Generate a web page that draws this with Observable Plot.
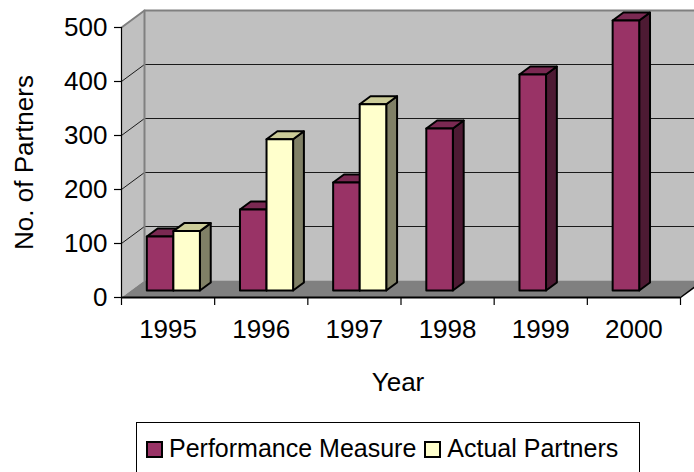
<!DOCTYPE html>
<html>
<head>
<meta charset="utf-8">
<script src="https://cdn.jsdelivr.net/npm/d3@7"></script>
<script src="https://cdn.jsdelivr.net/npm/@observablehq/plot@0.6"></script>
<style>
  html, body { margin: 0; padding: 0; background: white; overflow: hidden; }
  body { width: 694px; height: 472px; font-family: "Liberation Sans", Arial, sans-serif; }
  #legend {
    margin-left: 136px; margin-top: 4px; width: 504px; height: 70px;
    border: 1px solid #000; box-sizing: border-box;
    display: flex; align-items: flex-start; padding-top: 10px; padding-left: 9px;
    font-size: 25px; color: #000; line-height: 30px;
  }
  .item { display: flex; align-items: center; margin-right: 8px; }
  .sw { width: 13px; height: 13px; border: 2px solid #000; margin-right: 6px; margin-top: 3px; }
</style>
</head>
<body>
<div id="chart"></div>
<div id="legend"></div>
<script>
// ---- data ----
const years = ["1995", "1996", "1997", "1998", "1999", "2000"];
const performanceMeasure = [100, 150, 200, 300, 400, 500];
const actualPartners = [110, 280, 345, null, null, null];
const yTicks = [0, 100, 200, 300, 400, 500];
const seriesNames = ["Performance Measure", "Actual Partners"];

// ---- style / layout ----
const W = 694, H = 418;
const mL = 121, mR = 14, mT = 27, mB = H - 297;
const PX = (W - mL - mR) / years.length;  // px per category unit
const PY = (H - mT - mB) / 500;             // px per value unit
const DEPTH_DX = 23, DEPTH_DY = 17;         // oblique depth offset (px)
const pt = (x, y, d) => ({x: x + d * DEPTH_DX / PX, y: y + d * DEPTH_DY / PY});
const FS = 26;

const colors = {
  perf:   {front: "#993366", top: "#7a2952", side: "#4d1a33"},
  actual: {front: "#ffffcc", top: "#cccc99", side: "#808066"}
};

const n = years.length;
// walls and floor
const poly = (id, pts) => pts.map(p => ({...p, id}));
const backWall = poly("back", [pt(0,0,1), pt(n+1,0,1), pt(n+1,500,1), pt(0,500,1)]);
const sideWall = poly("side", [pt(0,0,0), pt(0,500,0), pt(0,500,1), pt(0,0,1)]);
const floor = poly("floor", [pt(0,0,0), pt(n,0,0), pt(n,0,1), pt(0,0,1)]);
const wallEdges = [pt(0,500,0), pt(0,500,1), pt(n+1,500,1)].map(p => ({...p, id: "e1"}))
  .concat([pt(0,500,1), pt(0,0,1)].map(p => ({...p, id: "e2"})));
const gridLines = [];
yTicks.filter(v => v > 0 && v < 500).forEach(v => {
  [pt(0,v,0), pt(0,v,1), pt(n+1,v,1)].forEach(p => gridLines.push({...p, id: "g" + v}));
});
const floorEdge = [pt(n,0,0), pt(n,0,1)];

// bars
const dF = 7 / 17, dB = 15 / 17, bw = 0.285, x0p = 0.17;
const faces = {front: [], top: [], side: []};
const series = [
  {key: "perf", values: performanceMeasure, off: x0p},
  {key: "actual", values: actualPartners, off: x0p + bw}
];
const bars = [];
years.forEach((yr, i) => series.forEach(s => {
  const v = s.values[i];
  if (v == null) return;
  bars.push({i, key: s.key, v, x0: i + s.off, x1: i + s.off + bw});
}));
for (const b of bars) {
  const id = b.key + b.i;
  faces.side.push(...poly(id, [pt(b.x1,0,dF), pt(b.x1,b.v,dF), pt(b.x1,b.v,dB), pt(b.x1,0,dB)]).map(p => ({...p, key: b.key})));
  faces.top.push(...poly(id, [pt(b.x0,b.v,dF), pt(b.x1,b.v,dF), pt(b.x1,b.v,dB), pt(b.x0,b.v,dB)]).map(p => ({...p, key: b.key})));
  faces.front.push(...poly(id, [pt(b.x0,0,dF), pt(b.x1,0,dF), pt(b.x1,b.v,dF), pt(b.x0,b.v,dF)]).map(p => ({...p, key: b.key})));
}
const faceMarks = [];
for (const f of ["side", "top", "front"]) {
  for (const k of ["perf", "actual"]) {
    faceMarks.push(Plot.line(faces[f].filter(d => d.key === k), {
      x: "x", y: "y", z: "id", curve: "linear-closed",
      fill: colors[k][f], stroke: "#000", strokeWidth: 2, strokeLinejoin: "round"
    }));
  }
}

const chart = Plot.plot({
  width: W, height: H,
  marginLeft: mL, marginRight: mR, marginTop: mT, marginBottom: mB,
  x: {domain: [0, n], axis: null},
  y: {domain: [0, 500], axis: null},
  style: {fontFamily: "'Liberation Sans', Arial, sans-serif", fontSize: FS + "px", background: "white", overflow: "hidden"},
  marks: [
    Plot.line(backWall, {x: "x", y: "y", z: "id", curve: "linear-closed", fill: "#c0c0c0", stroke: "none"}),
    Plot.line(sideWall, {x: "x", y: "y", z: "id", curve: "linear-closed", fill: "#c0c0c0", stroke: "none"}),
    Plot.line(floor, {x: "x", y: "y", z: "id", curve: "linear-closed", fill: "#808080", stroke: "none"}),
    Plot.line(gridLines, {x: "x", y: "y", z: "id", stroke: "#1a1a1a", strokeWidth: 1}),
    Plot.line(wallEdges, {x: "x", y: "y", z: "id", stroke: "#808080", strokeWidth: 2}),
    Plot.line(floorEdge, {x: "x", y: "y", stroke: "#000", strokeWidth: 1.5}),
    ...faceMarks,
    // y axis
    Plot.ruleX([0], {y1: 0, y2: 500, stroke: "#000", strokeWidth: 1.2}),
    Plot.ruleY(yTicks, {y: d => d, x1: -7 / PX, x2: 0, stroke: "#000", strokeWidth: 1.2}),
    Plot.text(yTicks, {x: 0, y: d => d, text: d => String(d), textAnchor: "end", dx: -14, fontSize: FS, fill: "#000"}),
    // x axis
    Plot.ruleY([0], {x1: 0, x2: n, stroke: "#000", strokeWidth: 2}),
    Plot.ruleX(d3.range(n + 1), {x: d => d, y1: 0, y2: -8 / PY, stroke: "#000", strokeWidth: 1.2}),
    Plot.text(years, {x: (d, i) => i + 0.5, y: 0, text: d => d, dy: 32, fontSize: FS, fill: "#000"}),
    // titles
    Plot.text(["Year"], {frameAnchor: "bottom", textAnchor: "middle", lineAnchor: "middle", text: d => d, dy: 85, dx: -3, fontSize: FS, fill: "#000"}),
    Plot.text(["No. of Partners"], {frameAnchor: "left", textAnchor: "middle", lineAnchor: "middle", text: d => d, rotate: -90, dx: -97, fontSize: FS, fill: "#000"})
  ]
});
document.getElementById("chart").appendChild(chart);

// legend
const legend = document.getElementById("legend");
[["perf", seriesNames[0]], ["actual", seriesNames[1]]].forEach(([k, name]) => {
  const item = document.createElement("div");
  item.className = "item";
  const sw = document.createElement("div");
  sw.className = "sw";
  sw.style.background = colors[k].front;
  const t = document.createElement("span");
  t.textContent = name;
  item.appendChild(sw); item.appendChild(t);
  legend.appendChild(item);
});
</script>
</body>
</html>
